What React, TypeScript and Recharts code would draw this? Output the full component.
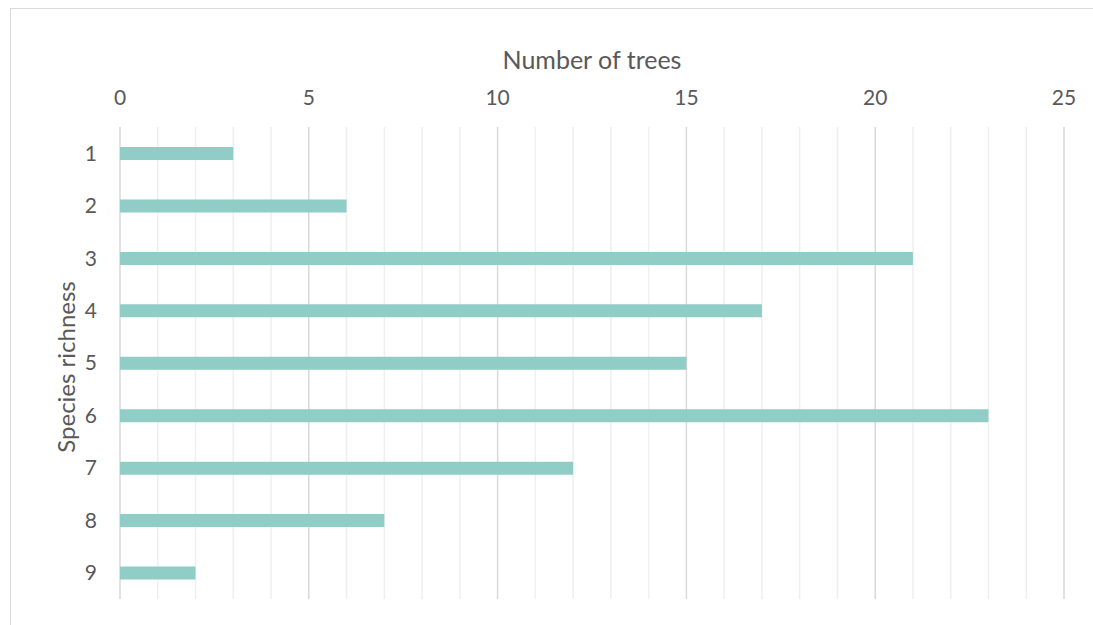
import { BarChart, Bar, XAxis, YAxis, CartesianGrid } from "recharts";

const richness = ["1", "2", "3", "4", "5", "6", "7", "8", "9"];
const trees = [3, 6, 21, 17, 15, 23, 12, 7, 2];
const majorTicks = [0, 5, 10, 15, 20, 25];
const minorTicks = [1, 2, 3, 4, 6, 7, 8, 9, 11, 12, 13, 14, 16, 17, 18, 19, 21, 22, 23, 24];

const data = richness.map((r, i) => ({ richness: r, trees: trees[i] }));

const FONT = "Lato, 'Open Sans', sans-serif";
const TEXT = "#595959";

function XTitle({ viewBox }: any) {
  const { x, width } = viewBox;
  return (
    <text x={x + width / 2} y={69} textAnchor="middle" fill={TEXT} fontSize={25} fontFamily={FONT}>
      Number of trees
    </text>
  );
}

function YTitle({ viewBox }: any) {
  const { x, y, height } = viewBox;
  const cx = x + 65;
  const cy = y + height / 2 + 4;
  return (
    <text
      x={cx}
      y={cy}
      transform={`rotate(-90 ${cx} ${cy})`}
      textAnchor="middle"
      dominantBaseline="central"
      fill={TEXT}
      fontSize={24}
      fontFamily={FONT}
    >
      Species richness
    </text>
  );
}

export default function App() {
  return (
    <div style={{ position: "absolute", left: 0, top: 0, width: 1093, height: 625, overflow: "hidden", background: "#fff" }}>
      <div style={{ position: "absolute", left: 10, top: 7.5, width: 1200, height: 700, border: "1.5px solid #D9D9D9" }} />
      <div style={{ position: "absolute", left: 0, top: 0 }}>
        <BarChart
          width={1093}
          height={625}
          data={data}
          layout="vertical"
          margin={{ top: 0, right: 29, bottom: 26, left: 0 }}
        >
          <CartesianGrid horizontal={false} verticalValues={minorTicks} stroke="#EFEFEF" strokeWidth={1.5} />
          <CartesianGrid horizontal={false} verticalValues={majorTicks} stroke="#D9D9D9" strokeWidth={1.5} />
          <XAxis
            type="number"
            orientation="top"
            domain={[0, 25]}
            ticks={majorTicks}
            height={127}
            axisLine={false}
            tickLine={false}
            tickMargin={16}
            tick={{ fill: TEXT, fontSize: 21, fontFamily: FONT }}
            label={<XTitle />}
          />
          <YAxis
            type="category"
            dataKey="richness"
            width={120}
            axisLine={false}
            tickLine={false}
            tickMargin={17}
            tick={{ fill: TEXT, fontSize: 21, fontFamily: FONT }}
            label={<YTitle />}
          />
          <Bar dataKey="trees" fill="#90CDC7" barSize={13} isAnimationActive={false} />
        </BarChart>
      </div>
    </div>
  );
}
